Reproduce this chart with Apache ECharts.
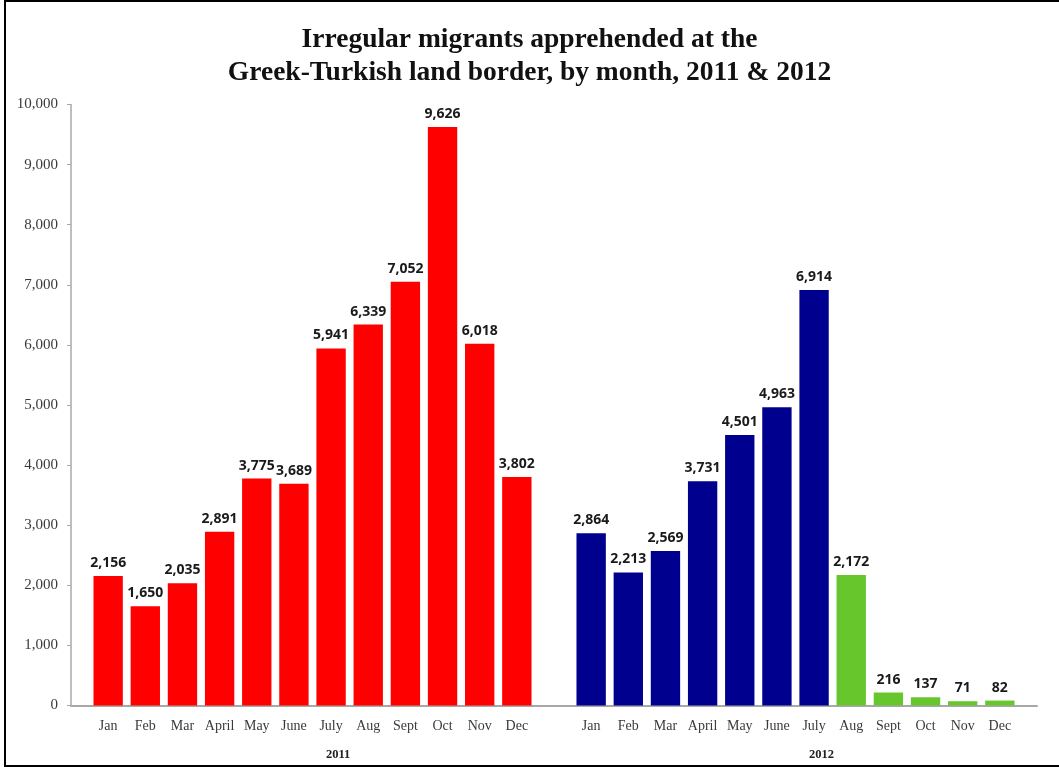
<!DOCTYPE html>
<html>
<head>
<meta charset="utf-8">
<script src="https://cdn.jsdelivr.net/npm/echarts@6/dist/echarts.min.js"></script>
<style>
  html, body { margin: 0; padding: 0; background: #fff; overflow: hidden; }
  #chart { width: 1059px; height: 767px; }
  #frame { position: absolute; left: 4px; top: 0; width: 1100px; height: 763px;
           border: 2px solid #000; border-right: none; pointer-events: none; }
</style>
</head>
<body>
<div id="chart"></div>
<div id="frame"></div>
<script>
// 数据
const months2011 = ['Jan','Feb','Mar','April','May','June','July','Aug','Sept','Oct','Nov','Dec']
const months2012 = ['Jan','Feb','Mar','April','May','June','July','Aug','Sept','Oct','Nov','Dec']
const values2011 = [2156,1650,2035,2891,3775,3689,5941,6339,7052,9626,6018,3802]
const values2012 = [2864,2213,2569,3731,4501,4963,6914,2172,216,137,71,82]
const yTicks = [0,1000,2000,3000,4000,5000,6000,7000,8000,9000,10000]

const red = '#ff0000'
const navy = '#00008f'
const green = '#66c62c'

// 类目轴：前后各留一个空位，两年之间也空一个
const categories = [''].concat(months2011, [''], months2012, [''])
const barData = [null]
values2011.forEach(v => barData.push({value: v, itemStyle: {color: red}}))
barData.push(null)
values2012.forEach((v, i) => barData.push({value: v, itemStyle: {color: i < 7 ? navy : green}}))
barData.push(null)

const chart = echarts.init(document.getElementById('chart'))
const option = {
  animation: false,
  title: [
    {
      text: 'Irregular migrants apprehended at the\nGreek-Turkish land border, by month, 2011 & 2012',
      left: 'center',
      top: 18,
      textStyle: {
        fontFamily: 'Liberation Serif',
        fontWeight: 'bold',
        fontSize: 27.5,
        lineHeight: 33,
        color: '#111'
      }
    },
    {
      text: '2011',
      left: 321,
      top: 743,
      textStyle: {fontFamily: 'Liberation Serif', fontWeight: 'bold', fontSize: 12.5, color: '#222'}
    },
    {
      text: '2012',
      left: 804,
      top: 743,
      textStyle: {fontFamily: 'Liberation Serif', fontWeight: 'bold', fontSize: 12.5, color: '#222'}
    }
  ],
  grid: {left: 71, right: 22, top: 104.5, bottom: 61.5},
  xAxis: {
    type: 'category',
    data: categories,
    boundaryGap: false,
    axisLine: {lineStyle: {color: '#a8a8a8', width: 2}},
    axisTick: {show: false},
    axisLabel: {
      interval: 0,
      margin: 14,
      fontFamily: 'Liberation Serif',
      fontSize: 14,
      color: '#3a3a3a'
    },
    splitLine: {show: false}
  },
  yAxis: {
    type: 'value',
    min: yTicks[0],
    max: yTicks[yTicks.length - 1],
    interval: yTicks[1] - yTicks[0],
    axisLine: {show: true, lineStyle: {color: '#a8a8a8', width: 1.5}},
    axisTick: {show: true, length: 4, lineStyle: {color: '#a8a8a8'}},
    axisLabel: {
      margin: 13,
      fontFamily: 'Liberation Serif',
      fontSize: 15,
      color: '#3a3a3a',
      formatter: v => v.toLocaleString('en-US')
    },
    splitLine: {show: false}
  },
  series: [
    {
      type: 'bar',
      data: barData,
      barWidth: '79%',
      label: {
        show: true,
        position: 'top',
        distance: 6,
        fontFamily: 'Open Sans',
        fontWeight: 'bold',
        fontSize: 14,
        color: '#1a1a1a',
        formatter: p => p.value.toLocaleString('en-US')
      }
    }
  ]
}
chart.setOption(option)
</script>
</body>
</html>
